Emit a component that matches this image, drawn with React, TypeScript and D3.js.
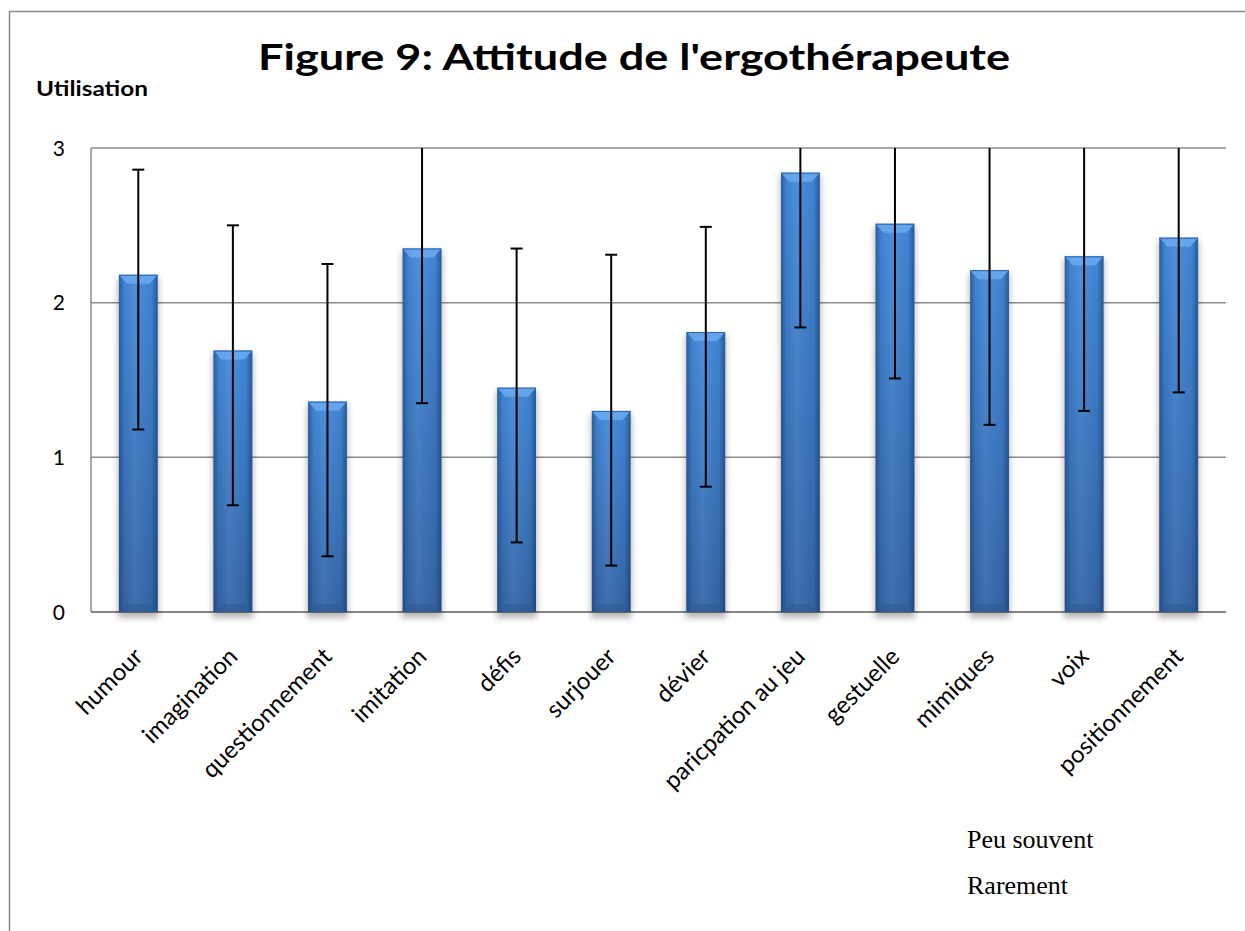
import React, { useEffect, useRef } from 'react';
import * as d3 from 'd3';

const categories = [
  'humour',
  'imagination',
  'questionnement',
  'imitation',
  'défis',
  'surjouer',
  'dévier',
  'paricpation au jeu',
  'gestuelle',
  'mimiques',
  'voix',
  'positionnement',
];
const values = [2.18, 1.69, 1.36, 2.35, 1.45, 1.3, 1.81, 2.84, 2.51, 2.21, 2.3, 2.42];
const errorPlus = [0.68, 0.81, 0.89, 1, 0.9, 1.01, 0.68, 1, 1, 1, 1, 1];
const errorMinus = [1, 1, 1, 1, 1, 1, 1, 1, 1, 1, 1, 1];
const yTicks = [0, 1, 2, 3];
const legendNotes = ['Peu souvent', 'Rarement'];

const title = "Figure 9: Attitude de l'ergothérapeute";
const yTitle = 'Utilisation';

export default function App() {
  const ref = useRef<SVGSVGElement | null>(null);

  useEffect(() => {
    if (!ref.current) return;
    document.body.style.margin = '0';
    document.body.style.overflow = 'hidden';

    const width = 1245;
    const height = 931;
    const marginTop = 148;
    const marginBottom = 319;
    const marginLeft = 91;
    const marginRight = 19;
    const font = 'Lato, "Open Sans", sans-serif';

    const svg = d3.select(ref.current);
    svg.selectAll('*').remove();

    const defs = svg.append('defs');
    const vGrad = defs
      .append('linearGradient')
      .attr('id', 'barV')
      .attr('x1', 0)
      .attr('y1', 0)
      .attr('x2', 0)
      .attr('y2', 1);
    vGrad.append('stop').attr('offset', '0%').attr('stop-color', '#4288d8');
    vGrad.append('stop').attr('offset', '100%').attr('stop-color', '#3465a6');

    const hGrad = defs
      .append('linearGradient')
      .attr('id', 'barH')
      .attr('x1', 0)
      .attr('y1', 0)
      .attr('x2', 1)
      .attr('y2', 0);
    hGrad.append('stop').attr('offset', '0%').attr('stop-color', '#0d2a55').attr('stop-opacity', 0.45);
    hGrad.append('stop').attr('offset', '14%').attr('stop-color', '#0d2a55').attr('stop-opacity', 0.05);
    hGrad.append('stop').attr('offset', '40%').attr('stop-color', '#ffffff').attr('stop-opacity', 0.06);
    hGrad.append('stop').attr('offset', '84%').attr('stop-color', '#0d2a55').attr('stop-opacity', 0.05);
    hGrad.append('stop').attr('offset', '100%').attr('stop-color', '#0d2a55').attr('stop-opacity', 0.5);

    const shadow = defs.append('filter').attr('id', 'shadow').attr('x', '-30%').attr('y', '-10%').attr('width', '160%').attr('height', '130%');
    shadow.append('feGaussianBlur').attr('stdDeviation', 3);

    defs
      .append('clipPath')
      .attr('id', 'plotClip')
      .append('rect')
      .attr('x', marginLeft)
      .attr('y', marginTop)
      .attr('width', width - marginLeft - marginRight)
      .attr('height', height - marginTop - marginBottom);

    // outer frame, only its left and top edges are in the picture
    svg
      .append('path')
      .attr('d', `M9.5,${height}V11.5H${width}`)
      .attr('fill', 'none')
      .attr('stroke', '#8a8a8a')
      .attr('stroke-width', 1.5);

    const x = d3
      .scaleBand()
      .domain(categories)
      .range([marginLeft, width - marginRight])
      .paddingInner(0.59)
      .paddingOuter(0.295);

    const y = d3
      .scaleLinear()
      .domain([0, 3])
      .range([height - marginBottom, marginTop]);

    // gridlines
    svg
      .append('g')
      .selectAll('line')
      .data(yTicks.filter((d) => d > 0))
      .join('line')
      .attr('x1', marginLeft)
      .attr('x2', width - marginRight)
      .attr('y1', (d) => y(d))
      .attr('y2', (d) => y(d))
      .attr('stroke', '#8c8c8c')
      .attr('stroke-width', 1.5);

    // axis lines
    svg
      .append('line')
      .attr('x1', marginLeft)
      .attr('x2', marginLeft)
      .attr('y1', marginTop)
      .attr('y2', y(0))
      .attr('stroke', '#8c8c8c')
      .attr('stroke-width', 1.5);
    svg
      .append('line')
      .attr('x1', marginLeft)
      .attr('x2', width - marginRight)
      .attr('y1', y(0))
      .attr('y2', y(0))
      .attr('stroke', '#858585')
      .attr('stroke-width', 2);

    const bars = svg
      .append('g')
      .selectAll('g')
      .data(categories)
      .join('g');

    const bw = x.bandwidth();

    bars
      .append('rect')
      .attr('x', (d) => (x(d) as number) - 1)
      .attr('y', (d, i) => y(values[i]) + 3)
      .attr('width', bw + 2)
      .attr('height', (d, i) => y(0) - y(values[i]) + 3)
      .attr('fill', '#000')
      .attr('opacity', 0.28)
      .attr('filter', 'url(#shadow)');

    bars
      .append('rect')
      .attr('x', (d) => x(d) as number)
      .attr('y', (d, i) => y(values[i]))
      .attr('width', bw)
      .attr('height', (d, i) => y(0) - y(values[i]))
      .attr('fill', 'url(#barV)');

    bars
      .append('rect')
      .attr('x', (d) => x(d) as number)
      .attr('y', (d, i) => y(values[i]))
      .attr('width', bw)
      .attr('height', (d, i) => y(0) - y(values[i]))
      .attr('fill', 'url(#barH)');

    // top bevel
    bars
      .append('path')
      .attr('d', (d, i) => {
        const x0 = x(d) as number;
        const y0 = y(values[i]);
        return `M${x0},${y0}L${x0 + bw},${y0}L${x0 + bw - 8},${y0 + 9}L${x0 + 8},${y0 + 9}Z`;
      })
      .attr('fill', '#6aaaf0')
      .attr('opacity', 0.85);
    bars
      .append('line')
      .attr('x1', (d) => x(d) as number)
      .attr('x2', (d) => (x(d) as number) + bw)
      .attr('y1', (d, i) => y(values[i]) + 0.5)
      .attr('y2', (d, i) => y(values[i]) + 0.5)
      .attr('stroke', '#2e64ad')
      .attr('stroke-width', 1);

    // bottom bevel
    bars
      .append('path')
      .attr('d', (d) => {
        const x0 = x(d) as number;
        const y0 = y(0);
        return `M${x0},${y0}L${x0 + bw},${y0}L${x0 + bw - 8},${y0 - 8}L${x0 + 8},${y0 - 8}Z`;
      })
      .attr('fill', '#2c5791')
      .attr('opacity', 0.5);

    // error bars
    const err = svg.append('g').attr('clip-path', 'url(#plotClip)');
    const cx = (d: string) => (x(d) as number) + bw / 2;
    err
      .selectAll('line.stem')
      .data(categories)
      .join('line')
      .attr('class', 'stem')
      .attr('x1', cx)
      .attr('x2', cx)
      .attr('y1', (d, i) => y(values[i] + errorPlus[i]))
      .attr('y2', (d, i) => y(values[i] - errorMinus[i]))
      .attr('stroke', '#000')
      .attr('stroke-width', 2);
    const caps: { c: string; v: number }[] = [];
    categories.forEach((c, i) => {
      caps.push({ c, v: values[i] + errorPlus[i] });
      caps.push({ c, v: values[i] - errorMinus[i] });
    });
    err
      .selectAll('line.cap')
      .data(caps.filter((d) => d.v <= 3 && d.v >= 0))
      .join('line')
      .attr('class', 'cap')
      .attr('x1', (d) => cx(d.c) - 6)
      .attr('x2', (d) => cx(d.c) + 6)
      .attr('y1', (d) => y(d.v))
      .attr('y2', (d) => y(d.v))
      .attr('stroke', '#000')
      .attr('stroke-width', 2);

    // y tick labels
    svg
      .append('g')
      .selectAll('text')
      .data(yTicks)
      .join('text')
      .attr('x', 65)
      .attr('y', (d) => y(d))
      .attr('dy', '0.36em')
      .attr('text-anchor', 'end')
      .attr('font-family', font)
      .attr('font-size', 21)
      .attr('fill', '#000')
      .text((d) => d);

    // x labels
    svg
      .append('g')
      .selectAll('text')
      .data(categories)
      .join('text')
      .attr('transform', (d) => `translate(${cx(d) + 6},${y(0) + 46}) rotate(-45)`)
      .attr('text-anchor', 'end')
      .attr('font-family', font)
      .attr('font-size', 24)
      .attr('fill', '#000')
      .text((d) => d);

    svg
      .append('text')
      .attr('x', 634)
      .attr('y', 70)
      .attr('text-anchor', 'middle')
      .attr('font-family', font)
      .attr('font-weight', 'bold')
      .attr('font-size', 37)
      .attr('textLength', 752)
      .attr('lengthAdjust', 'spacingAndGlyphs')
      .text(title);

    svg
      .append('text')
      .attr('x', 36)
      .attr('y', 96)
      .attr('font-family', font)
      .attr('font-weight', 'bold')
      .attr('font-size', 20)
      .attr('textLength', 112)
      .attr('lengthAdjust', 'spacingAndGlyphs')
      .text(yTitle);

    svg
      .append('g')
      .selectAll('text')
      .data(legendNotes)
      .join('text')
      .attr('x', 967)
      .attr('y', (d, i) => 848 + i * 46)
      .attr('font-family', '"Liberation Serif", "Times New Roman", serif')
      .attr('font-size', 26)
      .attr('fill', '#000')
      .text((d) => d);
  }, []);

  return (
    <svg
      ref={ref}
      width={1245}
      height={931}
      style={{ display: 'block', background: 'white' }}
    />
  );
}
